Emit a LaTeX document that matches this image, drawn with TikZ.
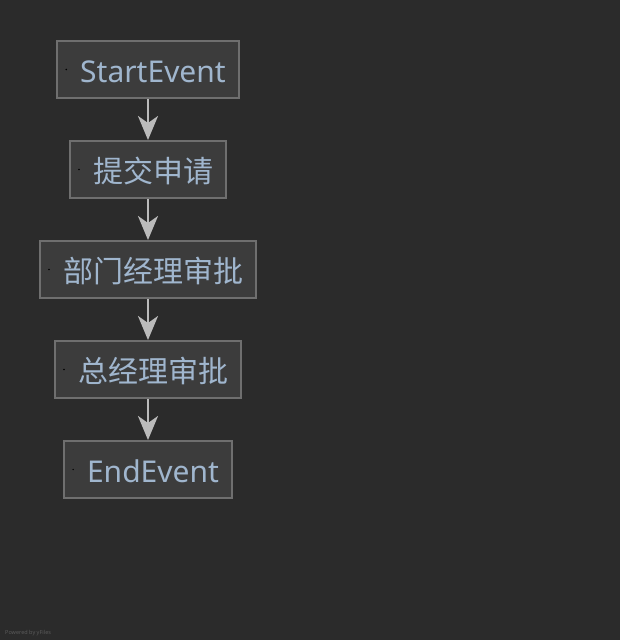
\documentclass[tikz,border=0pt]{standalone}
\usepackage{fontspec}
\setmainfont{Noto Sans}
\newfontfamily\cjk{Noto Sans CJK SC}
\usetikzlibrary{positioning}
\usetikzlibrary{arrows.meta}
\definecolor{bgdark}{HTML}{2B2B2B}
\definecolor{boxfill}{HTML}{3C3C3C}
\definecolor{boxline}{HTML}{6F6F6F}
\definecolor{labeltext}{HTML}{A0B6CE}
\definecolor{flowline}{HTML}{BBBBBB}
\definecolor{credit}{HTML}{5A5A5A}
\tikzset{
    % A big concave head, as the flow arrows show it
    >={Stealth[length=24pt,width=20pt,inset=7pt]},
%
    % One step of the flow, with the small icon dot at its left
    flow box/.style={
        draw=boxline, line width=2pt, fill=boxfill, rectangle,
        minimum height=57pt, inner xsep=13pt, inner ysep=0pt,
        text height=28pt, text depth=2pt,
        text=labeltext, font=\fontsize{30}{36}\selectfont,
        path picture={\fill [black]
            ([xshift=9pt]path picture bounding box.west) circle (0.8pt);}},
%
    % Connectors between the steps
    flow arrow/.style={->, draw=flowline, fill=flowline, line width=2.5pt}}

\begin{document}
\begin{tikzpicture}

\useasboundingbox [fill=bgdark] (0,0) rectangle (620pt,-640pt);

\tikzset{node distance=41pt}

\node (start) [flow box] at (148pt,-69.5pt) {\hspace{10pt}StartEvent};
\node (submit) [flow box, below=of start] {\hspace{10pt}\cjk 提交申请};
\node (dept) [flow box, below=of submit] {\hspace{10pt}\cjk 部门经理审批};
\node (gm) [flow box, below=of dept] {\hspace{10pt}\cjk 总经理审批};
\node (end) [flow box, below=of gm] {\hspace{10pt}EndEvent};

\draw [flow arrow] (start) -- (submit);
\draw [flow arrow] (submit) -- (dept);
\draw [flow arrow] (dept) -- (gm);
\draw [flow arrow] (gm) -- (end);

\node (powered) [anchor=base west, inner sep=0pt, text=credit,
    font=\fontsize{5.5}{6}\selectfont] at (5pt,-634pt) {Powered by yFiles};

\end{tikzpicture}
\end{document}
